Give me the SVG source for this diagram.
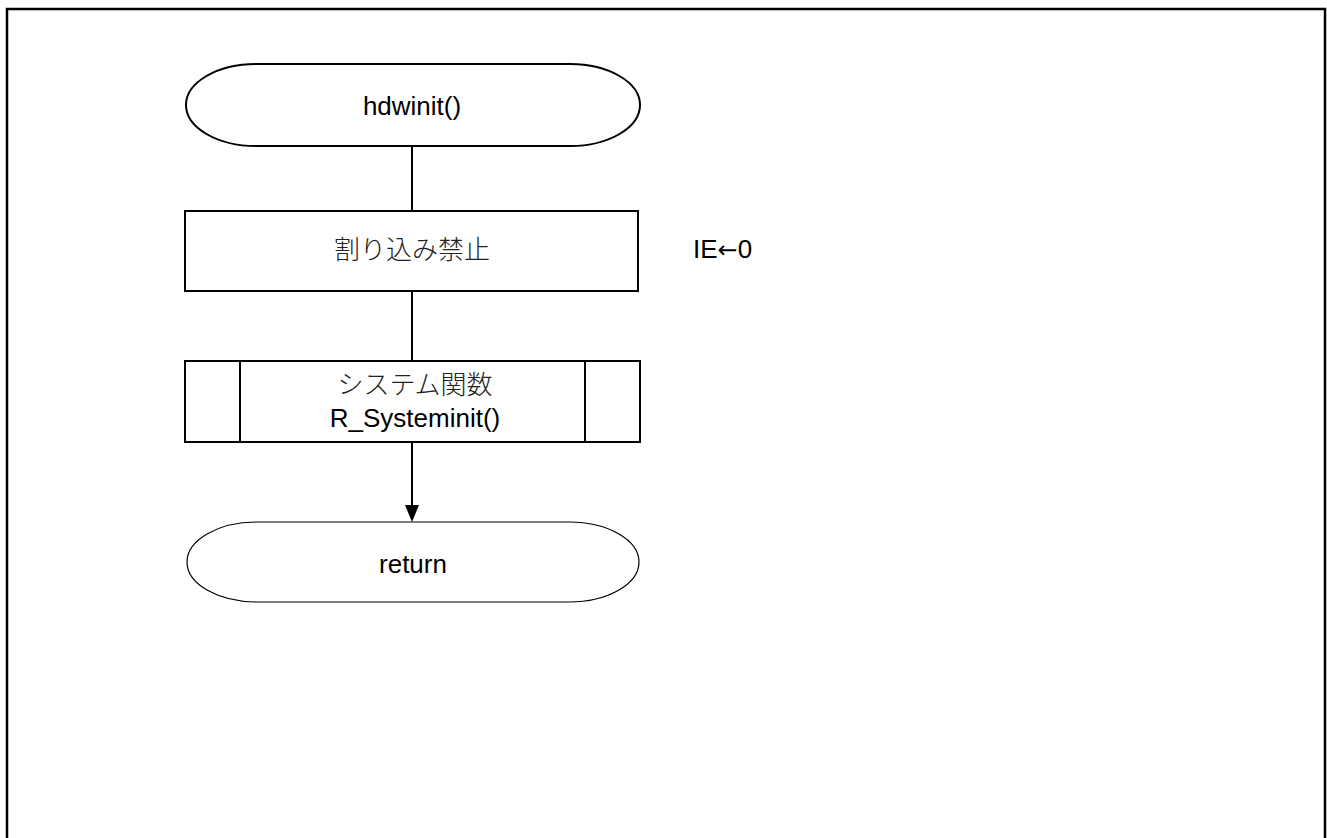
<svg xmlns="http://www.w3.org/2000/svg" width="1327" height="838" viewBox="0 0 1327 838">
<style>
.frame{fill:none;stroke:#000;stroke-width:2.5}
.shape{fill:#fff;stroke:#000;stroke-width:2}
.thin{fill:#fff;stroke:#000;stroke-width:1.2}
.line{fill:none;stroke:#000;stroke-width:2}
.t{font-family:"Liberation Sans",Arial,sans-serif;font-size:26px;fill:#000;text-anchor:middle}
.j{font-family:"Noto Sans CJK JP",sans-serif;font-size:26px;fill:#222;text-anchor:middle;font-weight:300}
.ar{font-family:"DejaVu Sans",sans-serif;font-size:24px}
</style>
<rect width="1327" height="838" fill="#fff"/>
<path class="frame" d="M7,840 V9 H1325 V840"/>
<g id="connectors">
<line class="line" x1="412" y1="146" x2="412" y2="211"/>
<line class="line" x1="412" y1="291" x2="412" y2="361"/>
<path class="line" d="M412,442 V505"/>
<path d="M405,505 L419,505 L412,522 Z" fill="#000"/>
</g>
<g id="start">
<rect class="shape" x="186" y="64" width="454" height="82" rx="70" ry="41"/>
<text class="t" x="412" y="115">hdwinit()</text>
</g>
<g id="disable-int">
<rect class="shape" x="185" y="211" width="453" height="80"/>
<text class="j" x="412" y="259">割り込み禁止</text>
</g>
<g id="note">
<text class="t" x="693" y="258" style="text-anchor:start">IE<tspan class="ar">←</tspan>0</text>
</g>
<g id="sysinit">
<rect class="shape" x="185" y="361" width="455" height="81"/>
<line class="line" x1="240" y1="361" x2="240" y2="442"/>
<line class="line" x1="585" y1="361" x2="585" y2="442"/>
<text class="j" x="415" y="394">システム関数</text>
<text class="t" x="415" y="427">R_Systeminit()</text>
</g>
<g id="return">
<rect class="thin" x="187" y="522" width="452" height="80" rx="70" ry="40"/>
<text class="t" x="413" y="573">return</text>
</g>
</svg>
